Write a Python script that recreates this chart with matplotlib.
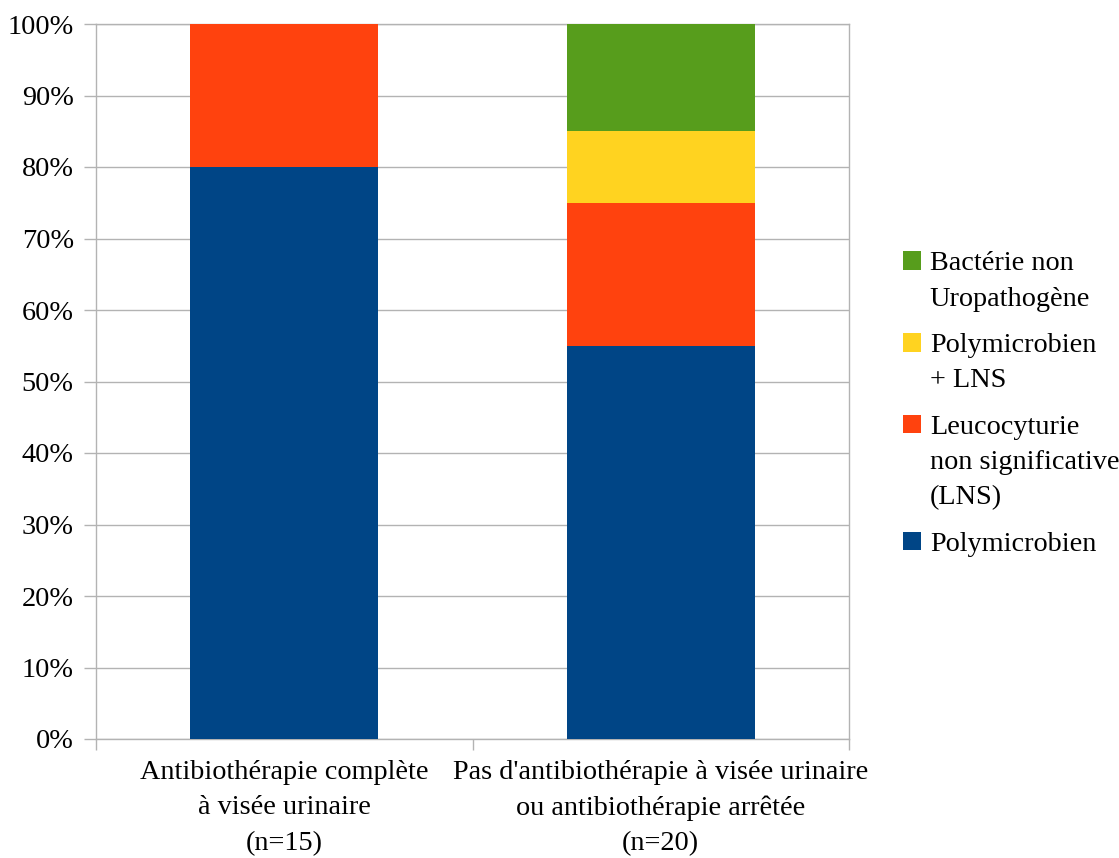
import matplotlib.pyplot as plt
import numpy as np

plt.rcParams['font.family'] = ['Liberation Serif', 'DejaVu Serif']
plt.rcParams['font.size'] = 20.3

# donnees
groupes = ["Antibiothérapie complète\nà visée urinaire\n(n=15)",
           "Pas d'antibiothérapie à visée urinaire\nou antibiothérapie arrêtée\n(n=20)"]
series = ["Polymicrobien", "Leucocyturie\nnon significative\n(LNS)",
          "Polymicrobien\n+ LNS", "Bactérie non\nUropathogène"]
polymicrobien = [80, 55]
lns = [20, 20]
poly_lns = [0, 10]
bacterie = [0, 15]
couleurs = ["#004586", "#ff420e", "#ffd320", "#579d1c"]

valeurs = [polymicrobien, lns, poly_lns, bacterie]

fig = plt.figure(figsize=(11.19, 8.58), dpi=100)
ax = fig.add_axes([96/1119, 1-739/858, (849-96)/1119, (739-24)/858])

x = np.arange(len(groupes))
bas = np.zeros(len(groupes))
barres = []
for v, nom, c in zip(valeurs, series, couleurs):
    b = ax.bar(x, v, width=0.5, bottom=bas, color=c, label=nom, zorder=3)
    barres.append(b)
    bas += np.array(v)

ax.set_xlim(-0.5, len(groupes) - 0.5)
ax.set_ylim(0, 100)
ax.set_yticks(np.arange(0, 101, 10))
ax.set_yticklabels([f"{t}%" for t in range(0, 101, 10)])
ax.yaxis.grid(True, color="#b3b3b3", linewidth=1.0, zorder=0)

# etiquettes au centre, traits aux limites des categories
ax.set_xticks(x)
ax.set_xticklabels(groupes, linespacing=1.55)
ax.set_xticks(np.arange(-0.5, len(groupes)), minor=True)
ax.tick_params(axis="x", which="major", length=0, pad=15)
ax.tick_params(axis="x", which="minor", length=8, color="#b3b3b3", width=1.0)
ax.tick_params(axis="y", length=9, color="#b3b3b3", width=1.0, pad=7)

for s in ax.spines.values():
    s.set_color("#b3b3b3")
    s.set_linewidth(1.0)

leg = ax.legend(handles=barres[::-1], labels=series[::-1], loc="center left",
                bbox_to_anchor=(903/1119, 1-404/858), bbox_transform=fig.transFigure,
                frameon=False, borderpad=0, borderaxespad=0,
                handlelength=0.65, handleheight=0.65,
                handletextpad=0.3, labelspacing=0.75)
for t in leg.get_texts():
    t.set_linespacing(1.55)
for col in leg._legend_handle_box.get_children():
    for row in col.get_children():
        row.align = "top"

fig.savefig("out.png", dpi=100)
